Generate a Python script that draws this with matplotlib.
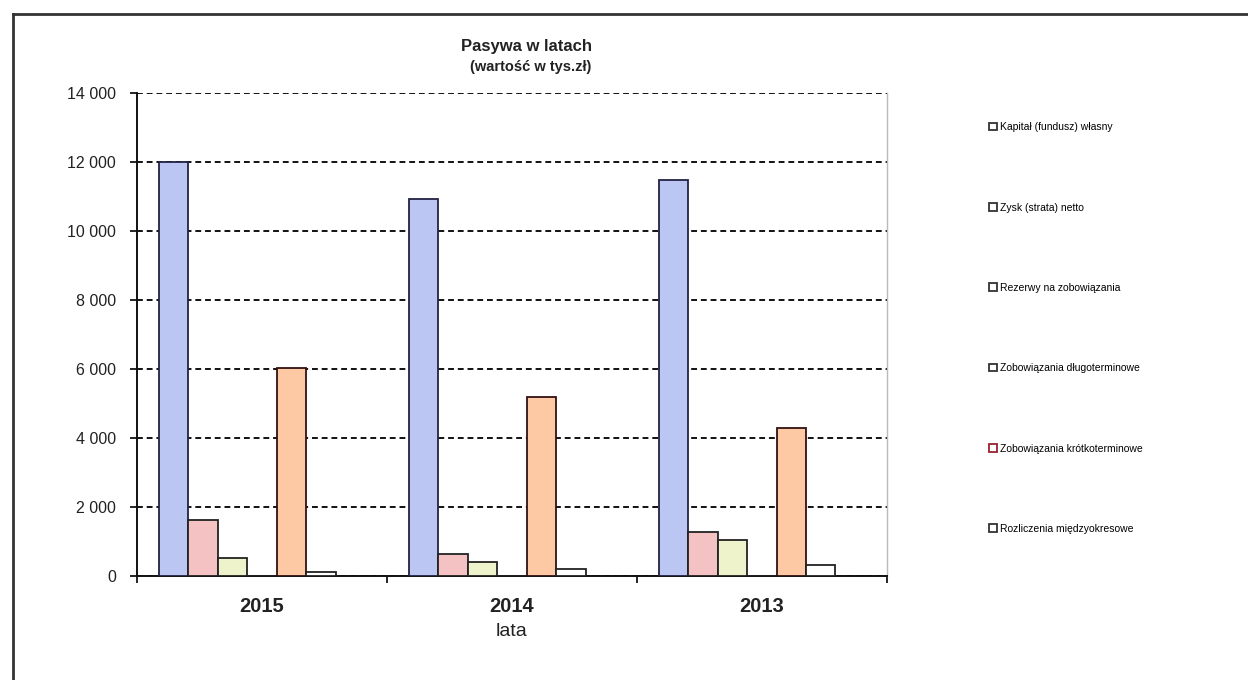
import matplotlib.pyplot as plt
from matplotlib.patches import Patch
from matplotlib.lines import Line2D
from matplotlib.ticker import FuncFormatter, FixedLocator
import numpy as np

plt.rcParams['font.family'] = ['Liberation Sans', 'DejaVu Sans']

# Dane: pasywa w tys. zł
lata = ['2015', '2014', '2013']
kapital_wlasny = [12000, 10920, 11480]
zysk_netto = [1620, 640, 1270]
rezerwy = [510, 415, 1030]
zobowiazania_dlugoterminowe = [0, 0, 0]
zobowiazania_krotkoterminowe = [6030, 5200, 4290]
rozliczenia_miedzyokresowe = [130, 190, 320]

serie = [
    ('Kapitał (fundusz) własny', kapital_wlasny, '#BCC6F2', '#222244'),
    ('Zysk (strata) netto', zysk_netto, '#F4C2C2', '#222222'),
    ('Rezerwy na zobowiązania', rezerwy, '#EEF3CC', '#222222'),
    ('Zobowiązania długoterminowe', zobowiazania_dlugoterminowe, '#DDEEDD', '#222222'),
    ('Zobowiązania krótkoterminowe', zobowiazania_krotkoterminowe, '#FCC9A4', '#331111'),
    ('Rozliczenia międzyokresowe', rozliczenia_miedzyokresowe, '#FFFFFF', '#222222'),
]

fig = plt.figure(figsize=(12.48, 6.8), dpi=100)
ax = fig.add_axes([0.1098, 0.1529, 0.6009, 0.7103])

# 7 miejsc na słupki w grupie (ostatnie puste), przerwa 150%
n_miejsc = 7
w = 1 / (n_miejsc + 1.5)
x = np.arange(len(lata))
for k, (nazwa, wartosci, kolor, krawedz) in enumerate(serie):
    ax.bar(x + 0.75 * w + (k + 0.5) * w, wartosci, width=w, color=kolor,
           edgecolor=krawedz, linewidth=1.3, zorder=3)

ax.set_xlim(0, 3)
ax.set_ylim(0, 14000)
ax.yaxis.set_major_locator(FixedLocator(np.arange(0, 14001, 2000)))
ax.yaxis.set_major_formatter(FuncFormatter(lambda v, p: f'{int(v):,}'.replace(',', ' ')))
ax.grid(axis='y', linestyle=(0, (3, 2)), color='#111111', linewidth=1.4, zorder=1)

ax.set_xticks([0, 1, 2, 3])
ax.set_xticklabels([])
ax.set_xticks(x + 0.5, minor=True)
ax.set_xticklabels(lata, minor=True, fontsize=14.5, fontweight='bold', color='#222222')
ax.tick_params(axis='x', which='minor', length=0, pad=15)
ax.tick_params(axis='x', which='major', length=5, width=1.2, direction='out')
ax.tick_params(axis='y', length=5, width=1.2, direction='out', labelsize=11.5,
               labelcolor='#222222', pad=10)
ax.set_xlabel('lata', fontsize=14, color='#222222', labelpad=5)

for s in ['left', 'bottom']:
    ax.spines[s].set_linewidth(1.4)
    ax.spines[s].set_color('#111111')
ax.spines['top'].set_visible(False)
ax.spines['right'].set_color('#BBBBBB')
ax.spines['right'].set_linewidth(1.0)

fig.text(0.422, 0.932, 'Pasywa w latach', ha='center', va='center',
         fontsize=12, fontweight='bold', color='#222222')
fig.text(0.425, 0.902, '(wartość w tys.zł)', ha='center', va='center',
         fontsize=10.5, fontweight='bold', color='#222222')

# Legenda z pustymi kwadracikami
uchwyty = [Patch(facecolor='white', edgecolor=('#992233' if 'krótko' in s[0] else '#333333'),
                 linewidth=1.3) for s in serie]
fig.legend(uchwyty, [s[0] for s in serie], loc='upper left',
           bbox_to_anchor=(0.785, 0.834), frameon=False, fontsize=7.5,
           labelspacing=6.75, handlelength=0.75, handleheight=0.75, handletextpad=0.3)

# Ramka wykresu
fig.add_artist(Line2D([0.0104, 0.0104], [0.0, 0.979], color='#333333', linewidth=2))
fig.add_artist(Line2D([0.0104, 1.0], [0.979, 0.979], color='#333333', linewidth=2))

fig.savefig('out.png', dpi=100)
